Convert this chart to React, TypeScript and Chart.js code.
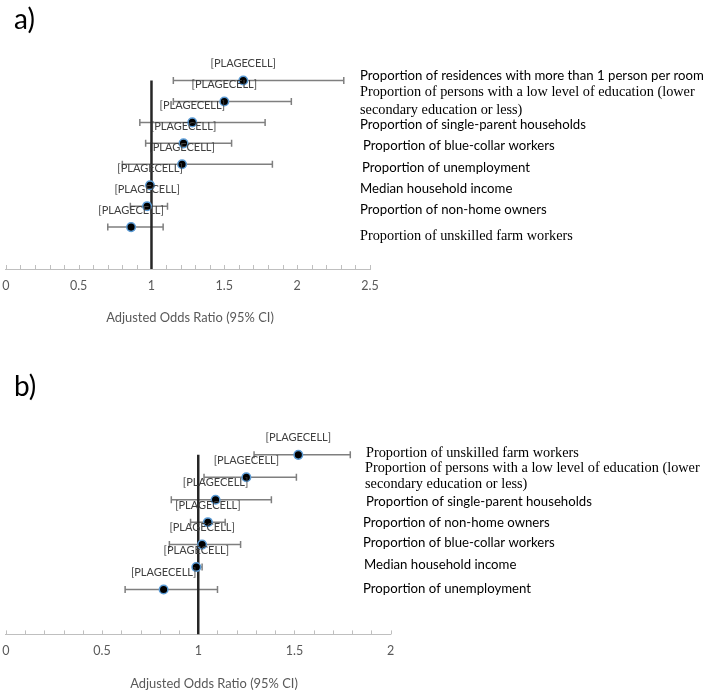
import React, { useEffect, useRef } from "react";
import { Chart, registerables } from "chart.js";

Chart.register(...registerables);

// ---------- Panel a) data ----------
const rowsA = [9, 8, 7, 6, 5, 4, 3, 2];
const oddsA = [1.63, 1.5, 1.28, 1.22, 1.21, 0.99, 0.97, 0.86];
const lowA = [1.15, 1.15, 0.92, 0.96, 0.8, 0.98, 0.855, 0.7];
const highA = [2.32, 1.96, 1.78, 1.55, 1.83, 1.01, 1.11, 1.08];
const namesA = [
  ["Proportion of residences with more than 1 person per room"],
  ["Proportion of persons with a low level of education (lower", "secondary education or less)"],
  ["Proportion of single-parent households"],
  ["Proportion of blue-collar workers"],
  ["Proportion of unemployment"],
  ["Median household income"],
  ["Proportion of non-home owners"],
  ["Proportion of unskilled farm workers"],
];
const xTickLabelsA = ["0", "0.5", "1", "1.5", "2", "2.5"];

// ---------- Panel b) data ----------
const rowsB = [8, 7, 6, 5, 4, 3, 2];
const oddsB = [1.52, 1.25, 1.09, 1.05, 1.02, 0.99, 0.82];
const lowB = [1.29, 1.03, 0.86, 0.96, 0.85, 0.98, 0.62];
const highB = [1.79, 1.51, 1.38, 1.14, 1.22, 1.02, 1.1];
const namesB = [
  ["Proportion of unskilled farm workers"],
  ["Proportion of persons with a low level of education (lower", "secondary education or less)"],
  ["Proportion of single-parent households"],
  ["Proportion of non-home owners"],
  ["Proportion of blue-collar workers"],
  ["Median household income"],
  ["Proportion of unemployment"],
];
const xTickLabelsB = ["0", "0.5", "1", "1.5", "2"];

const pointLabel = "[PLAGECELL]";
const axisTitle = "Adjusted Odds Ratio (95% CI)";
const refValue = 1;

// ---------- layout / style (not data) ----------
const SANS = "Lato, 'Open Sans', sans-serif";
const SERIF = "'Liberation Serif', 'DejaVu Serif', serif";

const layoutA = {
  letter: "a)",
  letterY: 29,
  serifRows: [1, 7],
  nameX: [360, 360, 360, 363, 362, 360, 360, 360],
  nameDy: [[-5], [-9.3, 9], [2.7], [2.7], [3.3], [3.6], [4], [9.3]],
  titleX: 190,
  titleY: 318,
  yMax: 10,
  xMax: 2.5,
  padding: { left: 2.7, right: 341, top: 59.6, bottom: 43 },
};
const layoutB = {
  letter: "b)",
  letterY: 51,
  serifRows: [0, 1],
  nameX: [366, 365, 366, 363, 363, 364, 363],
  nameDy: [[-1.7], [-9.4, 7.3], [1.7], [0.4], [-1.7], [-2], [-1]],
  titleX: 214,
  titleY: 338.5,
  yMax: 9,
  xMax: 2,
  padding: { left: 2.7, right: 320.3, top: 87.4, bottom: 22.6 },
};

const forestPlugin = {
  id: "forest",
  beforeDatasetsDraw(chart: any, _args: any, opts: any) {
    const { ctx, chartArea } = chart;
    const x = chart.scales.x;
    const y = chart.scales.y;
    ctx.save();
    // upward minor tick marks on the x axis
    ctx.strokeStyle = "#bfbfbf";
    ctx.lineWidth = 1;
    x.ticks.forEach((t: any) => {
      const px = Math.round(x.getPixelForValue(t.value)) + 0.5;
      ctx.beginPath();
      ctx.moveTo(px, chartArea.bottom);
      ctx.lineTo(px, chartArea.bottom - 4);
      ctx.stroke();
    });
    // error bars
    ctx.strokeStyle = "#7f7f7f";
    ctx.lineWidth = 1.5;
    opts.rows.forEach((r: number, i: number) => {
      const py = y.getPixelForValue(r);
      const x1 = x.getPixelForValue(opts.low[i]);
      const x2 = x.getPixelForValue(opts.high[i]);
      ctx.beginPath();
      ctx.moveTo(x1, py);
      ctx.lineTo(x2, py);
      ctx.moveTo(x1, py - 3.5);
      ctx.lineTo(x1, py + 3.5);
      ctx.moveTo(x2, py - 3.5);
      ctx.lineTo(x2, py + 3.5);
      ctx.stroke();
    });
    ctx.restore();
  },
  afterDatasetsDraw(chart: any, _args: any, opts: any) {
    const { ctx } = chart;
    const x = chart.scales.x;
    const y = chart.scales.y;
    const L = opts.layout;
    ctx.save();
    // data labels
    ctx.font = `11px ${SANS}`;
    ctx.fillStyle = "#404040";
    ctx.textAlign = "center";
    ctx.textBaseline = "middle";
    opts.rows.forEach((r: number, i: number) => {
      ctx.fillText(pointLabel, x.getPixelForValue(opts.odds[i]), y.getPixelForValue(r) - 17);
    });
    // row names
    ctx.fillStyle = "#000";
    ctx.textAlign = "left";
    opts.rows.forEach((r: number, i: number) => {
      const serif = L.serifRows.includes(i);
      ctx.font = serif ? `14.3px ${SERIF}` : `13.2px ${SANS}`;
      const py = y.getPixelForValue(r);
      opts.names[i].forEach((line: string, k: number) => {
        ctx.fillText(line, L.nameX[i], py + L.nameDy[i][k]);
      });
    });
    // axis title
    ctx.font = `12.9px ${SANS}`;
    ctx.fillStyle = "#595959";
    ctx.textAlign = "center";
    ctx.fillText(axisTitle, L.titleX, L.titleY);
    // panel letter
    ctx.font = `28px ${SANS}`;
    ctx.fillStyle = "#000";
    ctx.textAlign = "left";
    ctx.textBaseline = "alphabetic";
    ctx.fillText(L.letter, 14, L.letterY);
    ctx.restore();
  },
};

function ForestPanel(props: any) {
  const ref = useRef<HTMLCanvasElement>(null);
  useEffect(() => {
    const { rows, odds, low, high, names, tickLabels, layout } = props;
    const chart = new Chart(ref.current as HTMLCanvasElement, {
      type: "scatter",
      data: {
        datasets: [
          {
            label: "AOR",
            data: rows.map((r: number, i: number) => ({ x: odds[i], y: r })),
            pointRadius: 4.3,
            pointBackgroundColor: "#000",
            pointBorderColor: "#5b9bd5",
            pointBorderWidth: 1.5,
            order: 0,
          },
          {
            label: "ref",
            data: [
              { x: refValue, y: 0 },
              { x: refValue, y: rows[0] },
            ],
            showLine: true,
            borderColor: "#262626",
            borderWidth: 2.5,
            pointRadius: 0,
            order: 1,
          } as any,
        ],
      },
      options: {
        animation: false,
        responsive: false,
        layout: { padding: layout.padding },
        plugins: {
          legend: { display: false },
          tooltip: { enabled: false },
          forest: { rows, odds, low, high, names, layout },
        } as any,
        scales: {
          x: {
            type: "linear",
            min: 0,
            max: layout.xMax,
            afterFit: (scale: any) => {
              scale.paddingLeft = 0;
              scale.paddingRight = 0;
            },
            grid: { display: true, drawOnChartArea: false, drawTicks: false },
            border: { display: true, color: "#bfbfbf", width: 1 },
            ticks: {
              stepSize: 0.1,
              autoSkip: false,
              maxRotation: 0,
              padding: 9,
              color: "#595959",
              font: { family: SANS, size: 12.5 },
              callback: (v: any) => {
                const hit = tickLabels.find((l: string) => Math.abs(parseFloat(l) - Number(v)) < 1e-6);
                return hit === undefined ? "" : hit;
              },
            },
          },
          y: { display: false, min: 0, max: layout.yMax },
        },
      },
      plugins: [forestPlugin],
    });
    return () => chart.destroy();
  }, []);
  return <canvas ref={ref} width={711} height={345} style={{ display: "block" }} />;
}

export default function App() {
  return (
    <div style={{ position: "fixed", left: 0, top: 0, width: 711, height: 690, background: "#fff" }}>
      <ForestPanel rows={rowsA} odds={oddsA} low={lowA} high={highA} names={namesA} tickLabels={xTickLabelsA} layout={layoutA} />
      <ForestPanel rows={rowsB} odds={oddsB} low={lowB} high={highB} names={namesB} tickLabels={xTickLabelsB} layout={layoutB} />
    </div>
  );
}
